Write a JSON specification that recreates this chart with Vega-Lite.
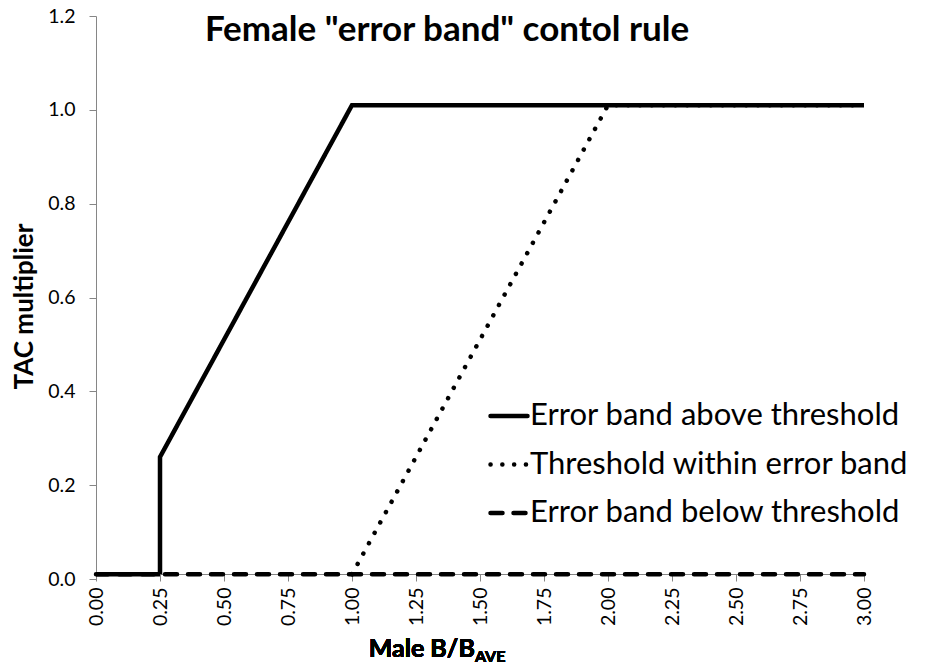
{
  "$schema": "https://vega.github.io/schema/vega-lite/v6.json",
  "width": 768,
  "height": 563,
  "autosize": {"type": "none"},
  "padding": {"left": 96, "top": 16, "right": 63, "bottom": 88},
  "background": "white",
  "config": {"view": {"stroke": null}, "font": "Lato"},
  "title": {
    "text": "Female \"error band\" contol rule",
    "font": "Lato",
    "fontSize": 35,
    "fontWeight": "bold",
    "color": "black",
    "anchor": "middle",
    "baseline": "alphabetic",
    "offset": -27,
    "dx": -33,
    "dy": 43
  },
  "data": {
    "values": [
      {"series": "Error band below threshold", "i": 1, "x": 0.0, "y": 0.01},
      {"series": "Error band below threshold", "i": 2, "x": 3.0, "y": 0.01},
      {"series": "Threshold within error band", "i": 1, "x": 1.0, "y": 0.01},
      {"series": "Threshold within error band", "i": 2, "x": 2.0, "y": 1.01},
      {"series": "Threshold within error band", "i": 3, "x": 3.0, "y": 1.01},
      {"series": "Error band above threshold", "i": 1, "x": 0.0, "y": 0.01},
      {"series": "Error band above threshold", "i": 2, "x": 0.25, "y": 0.01},
      {"series": "Error band above threshold", "i": 3, "x": 0.25, "y": 0.26},
      {"series": "Error band above threshold", "i": 4, "x": 1.0, "y": 1.01},
      {"series": "Error band above threshold", "i": 5, "x": 3.0, "y": 1.01}
    ]
  },
  "layer": [
    {
      "transform": [{"filter": "datum.series === 'Error band below threshold'"}],
      "mark": {"type": "line", "color": "black", "strokeWidth": 4.5, "strokeCap": "round"},
      "encoding": {
        "x": {
          "field": "x", "type": "quantitative",
          "scale": {"domain": [0, 3], "nice": false, "zero": false},
          "axis": {
            "title": null,
            "values": [0, 0.25, 0.5, 0.75, 1, 1.25, 1.5, 1.75, 2, 2.25, 2.5, 2.75, 3],
            "format": ".2f",
            "labelAngle": -90,
            "labelFont": "Lato",
            "labelFontSize": 19.5,
            "labelColor": "black",
            "labelPadding": 6,
            "labelFlush": false,
            "labelOverlap": false,
            "domainColor": "#868686",
            "tickColor": "#868686",
            "tickSize": 7,
            "grid": false,
            "offset": -5
          }
        },
        "y": {
          "field": "y", "type": "quantitative",
          "scale": {"domain": [0, 1.2], "nice": false, "zero": false},
          "axis": {
            "title": "TAC multiplier",
            "titleFont": "Lato",
            "titleFontSize": 26,
            "titleFontWeight": "bold",
            "titleColor": "black",
            "titlePadding": 10,
            "titleY": 290,
            "values": [0, 0.2, 0.4, 0.6, 0.8, 1.0, 1.2],
            "format": ".1f",
            "labelFont": "Lato",
            "labelFontSize": 19.5,
            "labelColor": "black",
            "labelPadding": 14,
            "labelFlush": false,
            "domainColor": "#868686",
            "tickColor": "#868686",
            "tickSize": 7,
            "grid": false
          }
        },
        "order": {"field": "i"},
        "strokeDash": {
          "field": "series", "type": "nominal",
          "scale": {
            "domain": ["Error band above threshold", "Threshold within error band", "Error band below threshold"],
            "range": [[1, 0], [0.1, 11.7], [12, 11]]
          },
          "legend": {
            "orient": "none",
            "legendX": 392,
            "legendY": 379,
            "title": null,
            "labelFont": "Lato",
            "labelFontSize": 31,
            "labelColor": "black",
            "labelLimit": 600,
            "symbolType": "stroke",
            "symbolSize": 1369,
            "symbolStrokeWidth": 4.5,
            "symbolStrokeColor": "black",
            "rowPadding": 12.5,
            "labelOffset": 0,
            "encode": {"symbols": {"update": {"strokeCap": {"value": "round"}}}}
          }
        }
      }
    },
    {
      "transform": [{"filter": "datum.series === 'Threshold within error band'"}],
      "mark": {"type": "line", "color": "black", "strokeWidth": 4.5, "strokeCap": "round"},
      "encoding": {
        "x": {"field": "x", "type": "quantitative"},
        "y": {"field": "y", "type": "quantitative"},
        "order": {"field": "i"},
        "strokeDash": {"field": "series", "type": "nominal"}
      }
    },
    {
      "transform": [{"filter": "datum.series === 'Error band above threshold'"}],
      "mark": {"type": "line", "color": "black", "strokeWidth": 4.5, "strokeCap": "butt"},
      "encoding": {
        "x": {"field": "x", "type": "quantitative"},
        "y": {"field": "y", "type": "quantitative"},
        "order": {"field": "i"},
        "strokeDash": {"field": "series", "type": "nominal"}
      }
    },
    {
      "mark": {"type": "text", "align": "right", "baseline": "alphabetic", "font": "Lato", "fontSize": 25, "fontWeight": "bold", "color": "black"},
      "encoding": {
        "x": {"datum": 1.48, "type": "quantitative"},
        "y": {"datum": -0.166, "type": "quantitative"},
        "text": {"value": "Male B/B"}
      }
    },
    {
      "mark": {"type": "text", "align": "left", "baseline": "alphabetic", "font": "Lato", "fontSize": 16, "fontWeight": "bold", "color": "black"},
      "encoding": {
        "x": {"datum": 1.48, "type": "quantitative"},
        "y": {"datum": -0.177, "type": "quantitative"},
        "text": {"value": "AVE"}
      }
    }
  ]
}
